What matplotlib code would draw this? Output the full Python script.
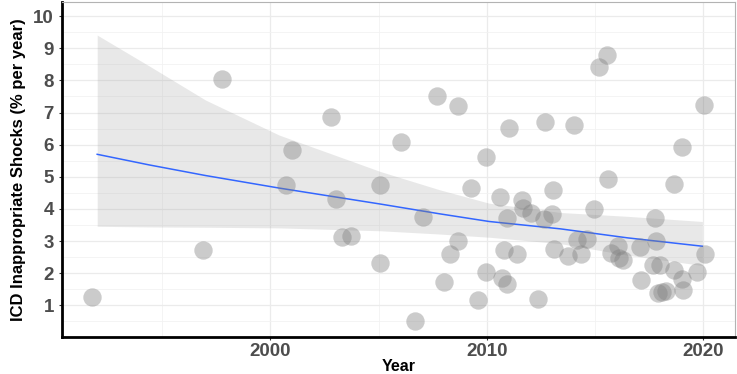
import numpy as np
import matplotlib
matplotlib.use('Agg')
import matplotlib.pyplot as plt
from matplotlib.ticker import MultipleLocator

# scatter data
years = [1991.75, 1996.90, 1997.77, 2000.72, 2001.01, 2002.78, 2003.01, 2003.29,
         2003.72, 2005.07, 2005.06, 2006.01, 2006.66, 2007.06, 2007.69, 2008.01,
         2008.28, 2008.65, 2008.66, 2009.26, 2009.57, 2009.95, 2009.95, 2010.61,
         2010.71, 2010.80, 2010.91, 2010.94, 2011.00, 2011.37, 2011.62, 2011.68,
         2012.02, 2012.37, 2012.62, 2012.69, 2012.99, 2013.06, 2013.09, 2013.76,
         2014.03, 2014.17, 2014.33, 2014.63, 2014.96, 2015.19, 2015.54, 2015.59,
         2015.71, 2016.05, 2016.11, 2016.30, 2017.07, 2017.10, 2017.68, 2017.76,
         2017.79, 2017.91, 2017.99, 2018.07, 2018.27, 2018.65, 2018.65, 2018.99,
         2018.99, 2019.07, 2019.69, 2020.04, 2020.07]
shocks = [1.25, 2.73, 8.04, 4.73, 5.83, 6.87, 4.31, 3.13,
          3.17, 4.73, 2.32, 6.07, 0.51, 3.74, 7.51, 1.72,
          2.60, 2.99, 7.21, 4.66, 1.18, 5.63, 2.03, 4.37,
          1.85, 2.73, 1.67, 3.72, 6.53, 2.61, 4.29, 4.04,
          3.87, 1.21, 3.70, 6.71, 3.85, 4.58, 2.76, 2.55,
          6.61, 3.04, 2.61, 3.08, 4.01, 8.41, 8.78, 4.94,
          2.63, 2.86, 2.47, 2.42, 2.82, 1.78, 2.27, 3.71,
          2.99, 1.37, 2.27, 1.43, 1.44, 4.78, 2.09, 5.92,
          1.82, 1.49, 2.04, 7.23, 2.60]

# smoother (fit + confidence band)
fit_years = [1992.0, 1994.4, 1997.0, 2000.4, 2005.1, 2007.8, 2010.1, 2013.4, 2016.5, 2019.95]
fit_mid = [5.70, 5.37, 5.04, 4.65, 4.15, 3.85, 3.61, 3.38, 3.10, 2.84]
fit_hi = [9.41, 8.45, 7.39, 6.30, 5.16, 4.60, 4.18, 3.89, 3.77, 3.61]
fit_lo = [3.46, 3.44, 3.43, 3.41, 3.32, 3.22, 3.12, 2.92, 2.56, 2.24]

plt.rcParams['font.family'] = ['Liberation Sans', 'DejaVu Sans']

fig = plt.figure(figsize=(7.37, 3.74), dpi=100)
ax = fig.add_axes([0.0837, 0.0976, 0.9136, 0.898])

ax.fill_between(fit_years, fit_lo, fit_hi, color='#999999', alpha=0.22, lw=0, zorder=2)
ax.plot(fit_years, fit_mid, color='#3366FF', lw=1.1, zorder=3)
ax.scatter(years, shocks, s=175, color='#7f7f7f', alpha=0.4, lw=0, zorder=4)

ax.set_xlim(1990.36, 2021.46)
ax.set_ylim(0.0, 10.45)

ax.xaxis.set_major_locator(MultipleLocator(10))
ax.xaxis.set_minor_locator(MultipleLocator(5))
ax.yaxis.set_major_locator(MultipleLocator(1))
ax.yaxis.set_minor_locator(MultipleLocator(0.5))
ax.set_yticks(range(1, 11))

ax.grid(which='major', color='#EBEBEB', lw=0.9, zorder=0)
ax.grid(which='minor', color='#F2F2F2', lw=0.6, zorder=0)
ax.set_axisbelow(True)

ax.tick_params(which='both', length=0)
ax.tick_params(which='major', length=2.5, color='#333333')
ax.tick_params(axis='x', pad=1.5)
ax.tick_params(axis='y', pad=3)
for lab in ax.get_xticklabels() + ax.get_yticklabels():
    lab.set_fontsize(13.5)
    lab.set_fontweight('bold')
    lab.set_color('#4D4D4D')

ax.spines['left'].set_color('black')
ax.spines['left'].set_linewidth(2)
ax.spines['bottom'].set_color('black')
ax.spines['bottom'].set_linewidth(2)
ax.spines['top'].set_color('#B3B3B3')
ax.spines['right'].set_color('#B3B3B3')
ax.spines['top'].set_linewidth(0.8)
ax.spines['right'].set_linewidth(0.8)

ax.set_xlabel('Year', fontsize=11.5, fontweight='bold', labelpad=-1)
ax.set_ylabel('ICD Inappropriate Shocks (% per year)', fontsize=12, fontweight='bold', labelpad=5)

fig.savefig('out.png', dpi=100)
